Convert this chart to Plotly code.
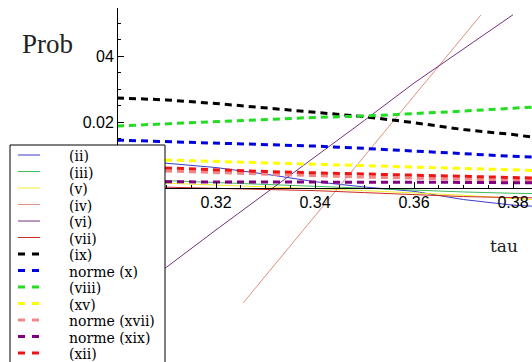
import plotly.graph_objects as go

# ---- data -------------------------------------------------------------
tau = [0.30, 0.31, 0.32, 0.33, 0.34, 0.35, 0.36, 0.37, 0.38, 0.385]
tau_vi = [0.30, 0.31, 0.32, 0.33, 0.34, 0.35, 0.36, 0.37, 0.38]
tau_iv = [0.3255, 0.33, 0.34, 0.35, 0.36, 0.37, 0.3735]

p_ii = [0.0088, 0.0075, 0.0062, 0.0042, 0.0019, 0.0003, -0.0010, -0.0035, -0.0052, -0.0056]
p_iii = [0.0028, 0.0022, 0.0016, 0.0010, 0.0004, -0.0002, -0.0006, -0.0012, -0.0016, -0.0017]
p_v = [0.0020, 0.0015, 0.0010, 0.0004, -0.0002, -0.0008, -0.0014, -0.0022, -0.0032, -0.0036]
p_iv = [-0.0348, -0.0266, -0.0084, 0.0098, 0.0279, 0.0461, 0.0524]
p_vi = [-0.0350, -0.0240, -0.0127, -0.0017, 0.0093, 0.0205, 0.0318, 0.0422, 0.0525]
p_vii = [0.0006, 0.0003, 0.0000, -0.0004, -0.0008, -0.0014, -0.0020, -0.0026, -0.0029, -0.0030]
p_ix = [0.0273, 0.0267, 0.0256, 0.0242, 0.0230, 0.0216, 0.0198, 0.0177, 0.0162, 0.0152]
p_x = [0.0145, 0.0141, 0.0137, 0.0133, 0.0127, 0.0120, 0.0113, 0.0104, 0.0096, 0.0093]
p_viii = [0.0188, 0.0195, 0.0200, 0.0208, 0.0214, 0.0218, 0.0225, 0.0233, 0.0242, 0.0246]
p_xv = [0.0089, 0.0085, 0.0081, 0.0077, 0.0073, 0.0069, 0.0064, 0.0060, 0.0055, 0.0052]
p_xvii = [0.0056, 0.0051, 0.0046, 0.0041, 0.0037, 0.0033, 0.0030, 0.0027, 0.0024, 0.0022]
p_xix = [0.0019, 0.0019, 0.0019, 0.0018, 0.0018, 0.0018, 0.0017, 0.0017, 0.0016, 0.0016]
p_xii = [0.0066, 0.0060, 0.0055, 0.0050, 0.0046, 0.0042, 0.0039, 0.0036, 0.0032, 0.0030]

names = ["(ii)", "(iii)", "(v)", "(iv)", "(vi)", "(vii)", "(ix)", "norme (x)",
         "(viii)", "(xv)", "norme (xvii)", "norme (xix)", "(xii)"]
xs = [tau, tau, tau, tau_iv, tau_vi, tau, tau, tau, tau, tau, tau, tau, tau]
ys = [p_ii, p_iii, p_v, p_iv, p_vi, p_vii, p_ix, p_x, p_viii, p_xv, p_xvii, p_xix, p_xii]
colors = ["#3c3cc8", "#3cbc5a", "#eeee30", "#e0907c", "#74307e", "#cc2a20",
          "#000000", "#0000e0", "#22dd22", "#ffff00", "#f08888", "#800080", "#ee1414"]
dashed = [False] * 6 + [True] * 7

x_ticks = [0.32, 0.34, 0.36, 0.38]
x_ticktext = ["0.32", "0.34", "0.36", "0.38"]
y_ticks = [0.02, 0.04]
y_ticktext = ["0.02", "04"]

# ---- geometry (pixels of the 532x362 page) ---------------------------
W, H, TOP = 532, 362, 8
PLOT_H = H - TOP
X_LEFT = 10                               # x axis starts here (under the key)
X_PER_UNIT, Y_PER_UNIT = 4950.0, 3300.0
AXIS_X_PX, AXIS_Y_PX = 117, 188          # where the two axes cross


def px_x(px):
    return px / W


def px_y(py):
    return (H - py) / PLOT_H


x_range = [0.30 - (AXIS_X_PX - X_LEFT) / X_PER_UNIT, 0.30 + (W - AXIS_X_PX) / X_PER_UNIT]
y_range = [(AXIS_Y_PX - H) / Y_PER_UNIT, (AXIS_Y_PX - TOP) / Y_PER_UNIT]

fig = go.Figure()
for x, y, c, d in zip(xs, ys, colors, dashed):
    fig.add_trace(go.Scatter(
        x=x, y=y, mode="lines", showlegend=False, hoverinfo="skip",
        line=dict(color=c, width=3 if d else 1, dash="7px,5px" if d else "solid"),
    ))

tick_font = dict(family="Liberation Sans", size=16, color="black")
fig.update_layout(
    width=W, height=H,
    margin=dict(l=0, r=0, t=TOP, b=0, pad=0),
    paper_bgcolor="white", plot_bgcolor="white",
    xaxis=dict(
        domain=[px_x(X_LEFT), 1.0],
        range=x_range, anchor="free", position=px_y(AXIS_Y_PX),
        showgrid=False, zeroline=False, showline=True, linecolor="black", linewidth=1,
        ticks="inside", ticklen=6, tickcolor="black", tickwidth=1,
        tickvals=x_ticks, ticktext=x_ticktext, tickfont=tick_font,
        minor=dict(dtick=0.005, tick0=0.30, ticks="inside", ticklen=3, tickcolor="black"),
    ),
    yaxis=dict(
        range=y_range, anchor="free", position=px_x(AXIS_X_PX),
        showgrid=False, zeroline=False, showline=True, linecolor="black", linewidth=1,
        ticks="inside", ticklen=6, tickcolor="black", tickwidth=1,
        tickvals=y_ticks, ticktext=y_ticktext, tickfont=tick_font,
        minor=dict(dtick=0.005, tick0=0.0, ticks="inside", ticklen=3, tickcolor="black"),
    ),
)

# axis labels
fig.add_annotation(text="Prob", xref="paper", yref="paper", x=px_x(20), y=px_y(44),
                   xanchor="left", yanchor="middle", showarrow=False,
                   font=dict(family="Liberation Serif", size=27, color="#222222"))
fig.add_annotation(text="tau", xref="paper", yref="paper", x=px_x(504), y=px_y(246),
                   xanchor="center", yanchor="middle", showarrow=False,
                   font=dict(family="DejaVu Serif", size=17, color="#222222"))

# key box in the lower-left corner
fig.add_shape(type="rect", xref="paper", yref="paper", layer="above",
              x0=px_x(10), x1=px_x(165), y0=px_y(380), y1=px_y(145),
              fillcolor="white", line=dict(color="black", width=1))
ROW0, ROW_STEP = 155, 16.5
for i, (name, c, d) in enumerate(zip(names, colors, dashed)):
    yr = ROW0 + i * ROW_STEP
    fig.add_shape(type="line", xref="paper", yref="paper", layer="above",
                  x0=px_x(18), x1=px_x(40), y0=px_y(yr), y1=px_y(yr),
                  line=dict(color=c, width=3 if d else 1, dash="7px,7px" if d else "solid"))
    fig.add_annotation(text=name, xref="paper", yref="paper", x=px_x(67), y=px_y(yr + 1),
                       xanchor="left", yanchor="middle", showarrow=False,
                       font=dict(family="DejaVu Serif", size=14, color="black"))

fig.write_html("out.html")
